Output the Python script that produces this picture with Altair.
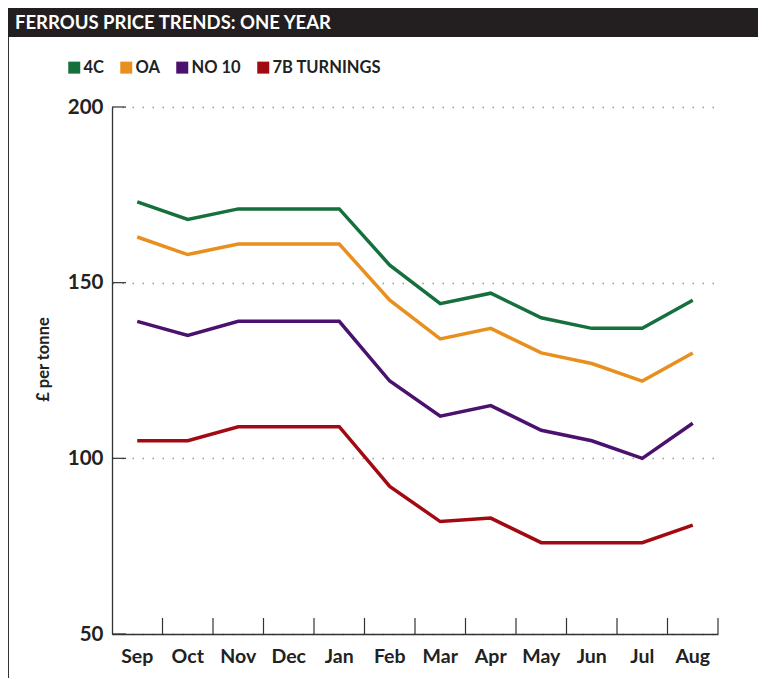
import altair as alt
import pandas as pd

title_text = "FERROUS PRICE TRENDS: ONE YEAR"
y_title = "£ per tonne"
months = ["Sep", "Oct", "Nov", "Dec", "Jan", "Feb", "Mar", "Apr", "May", "Jun", "Jul", "Aug"]
series = ["4C", "OA", "NO 10", "7B TURNINGS"]
line_colors = ["#15703d", "#e8901f", "#4b116e", "#a20a12"]

v_4c = [173, 168, 171, 171, 171, 155, 144, 147, 140, 137, 137, 145]
v_oa = [163, 158, 161, 161, 161, 145, 134, 137, 130, 127, 122, 130]
v_no10 = [139, 135, 139, 139, 139, 122, 112, 115, 108, 105, 100, 110]
v_7b = [105, 105, 109, 109, 109, 92, 82, 83, 76, 76, 76, 81]
y_ticks = [50, 100, 150, 200]

rows = []
for name, vals in zip(series, [v_4c, v_oa, v_no10, v_7b]):
    for m, v in zip(months, vals):
        rows.append({"series": name, "month": m, "value": v})
df = pd.DataFrame(rows)

W, H = 606, 527
FONT = "Lato"
TXT = "#222222"

xscale = alt.Scale(type="band", domain=months, paddingInner=0, paddingOuter=0)
yscale = alt.Scale(domain=[50, 200], nice=False, zero=False)

x_axis = alt.Axis(
    title=None, domain=True, domainColor="#333333", domainWidth=1.3, ticks=False,
    labelFont=FONT, labelFontSize=19.5, labelFontWeight="bold", labelColor=TXT,
    labelPadding=13, labelAngle=0, grid=False,
)
y_axis = alt.Axis(
    title=y_title, values=y_ticks, domain=True, domainColor="#333333", domainWidth=1.3,
    ticks=False, labelFont=FONT, labelFontSize=20.5, labelFontWeight="bold",
    labelColor=TXT, labelPadding=9, grid=True, gridColor="#9a9a9a", gridDash=[1.5, 8.5],
    gridWidth=1.5, titleFont=FONT, titleFontSize=16.5, titleFontWeight="bold",
    titleColor=TXT, titlePadding=16, titleY=252,
)

legend = alt.Legend(
    title=None, orient="none", direction="horizontal", legendX=-46, legendY=-48,
    symbolType="square", symbolSize=36, symbolStrokeWidth=6, symbolOpacity=1,
    labelFont=FONT, labelFontSize=16.5, labelFontWeight="bold", labelColor=TXT,
    labelOffset=1, columnPadding=7,
)

lines = alt.Chart(df).mark_line(strokeWidth=3.5).encode(
    x=alt.X("month:N", scale=xscale, axis=x_axis, bandPosition=0.5),
    y=alt.Y("value:Q", scale=yscale, axis=y_axis),
    stroke=alt.Stroke("series:N", scale=alt.Scale(domain=series, range=line_colors), legend=legend),
)

month_df = pd.DataFrame({"month": months})
x_ticks = alt.Chart(month_df).mark_rule(color="#333333", strokeWidth=1.2).encode(
    x=alt.X("month:N", bandPosition=1),
    y=alt.value(H - 16),
    y2=alt.value(H),
)

ytick_df = pd.DataFrame({"value": y_ticks})
y_tick_rules = alt.Chart(ytick_df).mark_rule(color="#333333", strokeWidth=1.2).encode(
    y=alt.Y("value:Q"),
    x=alt.value(0),
    x2=alt.value(14),
)

one = alt.Data(values=[{"k": 1}])
bar = alt.Chart(one).mark_rect(color="#231f20").encode(
    x=alt.value(-104), x2=alt.value(W + 40), y=alt.value(-99), y2=alt.value(-70)
)
bar_text = alt.Chart(one).mark_text(
    align="left", baseline="middle", font=FONT, fontSize=18.5, fontWeight="bold", color="white"
).encode(x=alt.value(-97), y=alt.value(-84), text=alt.value(title_text))
border = alt.Chart(one).mark_rule(color="#333333", strokeWidth=1).encode(
    x=alt.value(-103.5), y=alt.value(-70), y2=alt.value(H + 44)
)

chart = alt.layer(
    lines, x_ticks, y_tick_rules, bar, bar_text, border
).properties(
    width=W, height=H,
    background="white",
    autosize=alt.AutoSizeParams(type="none"),
    padding={"left": 104, "top": 99, "right": 40, "bottom": 44},
).configure_view(stroke=None)

chart.save("out.html", embed_options={"renderer": "svg", "actions": False})
